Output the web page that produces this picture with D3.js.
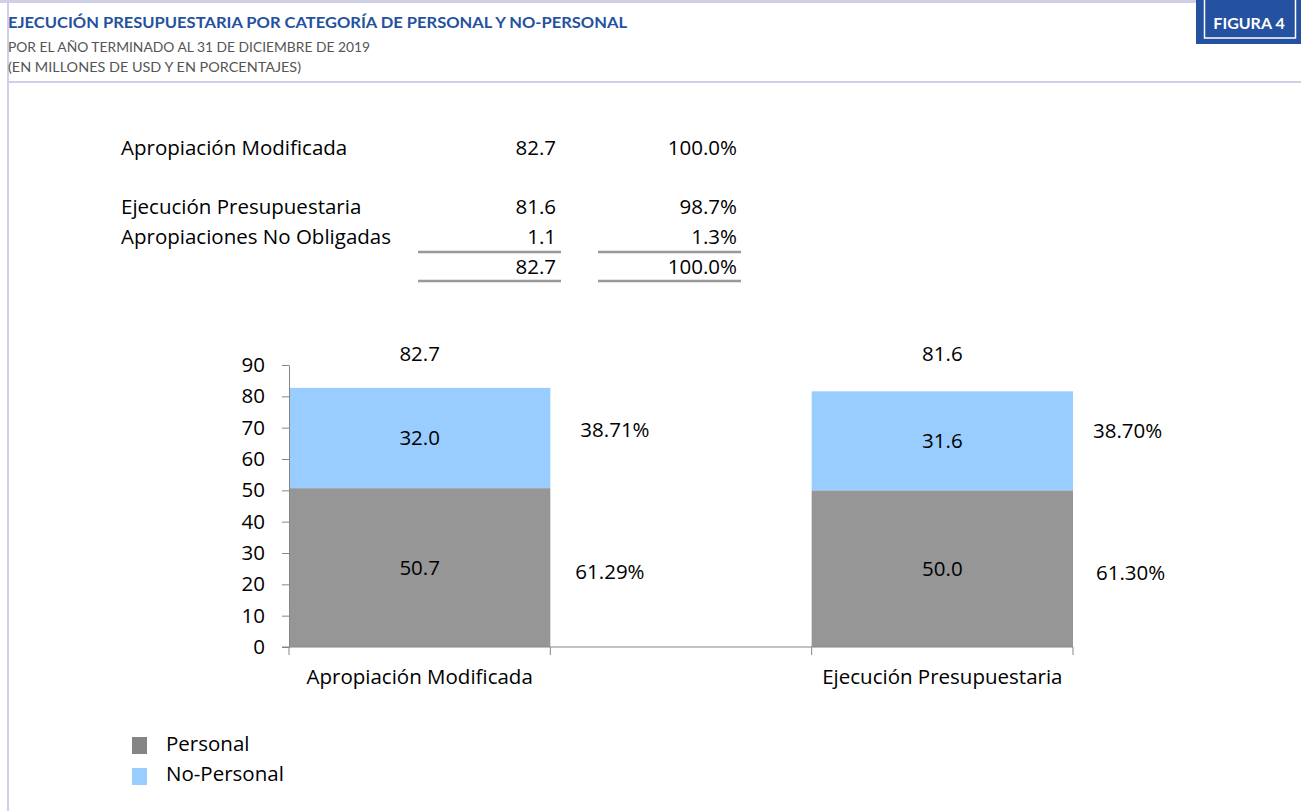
<!DOCTYPE html>
<html>
<head>
<meta charset="utf-8">
<script src="https://cdn.jsdelivr.net/npm/d3@7"></script>
<style>
  body { margin: 0; background: #fff; }
  svg { display: block; }
</style>
</head>
<body>
<svg id="chart" width="1301" height="811"></svg>
<script>
// table rows at the top
var tableLabels = ["Apropiación Modificada", "Ejecución Presupuestaria", "Apropiaciones No Obligadas", ""];
var tableAmounts = [82.7, 81.6, 1.1, 82.7];
var tablePercents = [100.0, 98.7, 1.3, 100.0];

// stacked bar data (middle category left empty, like the original)
var categories = ["Apropiación Modificada", "", "Ejecución Presupuestaria"];
var personal = [50.7, null, 50.0];
var noPersonal = [32.0, null, 31.6];
var totals = [82.7, null, 81.6];
var personalPct = ["61.29%", null, "61.30%"];
var noPersonalPct = ["38.71%", null, "38.70%"];
var yTicks = [0, 10, 20, 30, 40, 50, 60, 70, 80, 90];
var seriesNames = ["Personal", "No-Personal"];

var svg = d3.select("#chart");
var width = 1301, height = 811;
var frame = "#cfcfe8";
var blue = "#2451a0";
var font = "'Open Sans', sans-serif";
var head = "Lato, sans-serif";
var fs = "20.5px";

// frame lines
svg.append("line").attr("x1", 0).attr("x2", width).attr("y1", 1.5).attr("y2", 1.5)
    .attr("stroke", frame).attr("stroke-width", 3);
svg.append("line").attr("x1", 8).attr("x2", 8).attr("y1", 0).attr("y2", height)
    .attr("stroke", frame).attr("stroke-width", 2);
svg.append("line").attr("x1", 8).attr("x2", width).attr("y1", 82).attr("y2", 82)
    .attr("stroke", frame).attr("stroke-width", 2);

// titles
svg.append("text").attr("x", 8).attr("y", 28)
    .attr("font-family", head).attr("font-weight", "bold").attr("font-size", "15px")
    .attr("fill", blue).attr("textLength", 619).attr("lengthAdjust", "spacingAndGlyphs")
    .text("EJECUCIÓN PRESUPUESTARIA POR CATEGORÍA DE PERSONAL Y NO-PERSONAL");
svg.append("text").attr("x", 8).attr("y", 52)
    .attr("font-family", head).attr("font-size", "12.5px").attr("fill", "#555")
    .attr("textLength", 362).attr("lengthAdjust", "spacingAndGlyphs")
    .text("POR EL AÑO TERMINADO AL 31 DE DICIEMBRE DE 2019");
svg.append("text").attr("x", 8).attr("y", 72)
    .attr("font-family", head).attr("font-size", "12.5px").attr("fill", "#555")
    .attr("textLength", 293).attr("lengthAdjust", "spacingAndGlyphs")
    .text("(EN MILLONES DE USD Y EN PORCENTAJES)");

// figure tag
svg.append("rect").attr("x", 1196).attr("y", 0).attr("width", 105).attr("height", 44).attr("fill", blue);
svg.append("rect").attr("x", 1204.5).attr("y", -2).attr("width", 91).attr("height", 40)
    .attr("fill", "none").attr("stroke", "#fff").attr("stroke-width", 1.5);
svg.append("text").attr("x", 1249).attr("y", 29).attr("text-anchor", "middle")
    .attr("font-family", head).attr("font-weight", "bold").attr("font-size", "16px")
    .attr("fill", "#fff").text("FIGURA 4");

// summary table
var rowY = [155, 214, 244, 274];
var fmt1 = d3.format(".1f");
var table = svg.append("g").attr("font-family", font).attr("font-size", fs).attr("fill", "#000");
tableLabels.forEach(function(t, i) {
    table.append("text").attr("x", 121).attr("y", rowY[i]).text(t);
    table.append("text").attr("x", 556).attr("y", rowY[i]).attr("text-anchor", "end").text(fmt1(tableAmounts[i]));
    table.append("text").attr("x", 737).attr("y", rowY[i]).attr("text-anchor", "end").text(fmt1(tablePercents[i]) + "%");
});
[252, 281].forEach(function(y) {
    svg.append("line").attr("x1", 418).attr("x2", 561).attr("y1", y).attr("y2", y)
        .attr("stroke", "#999").attr("stroke-width", 2.5);
    svg.append("line").attr("x1", 598).attr("x2", 741).attr("y1", y).attr("y2", y)
        .attr("stroke", "#999").attr("stroke-width", 2.5);
});

// chart scales
var x = d3.scaleBand().domain(categories).range([289, 1073]).padding(0);
var y = d3.scaleLinear().domain([0, 90]).range([647, 365]);
var color = d3.scaleOrdinal().domain(seriesNames).range(["#969696", "#99ccff"]);

var bars = svg.append("g");
categories.forEach(function(c, i) {
    if (personal[i] == null) return;
    bars.append("rect").attr("x", x(c)).attr("width", x.bandwidth())
        .attr("y", y(personal[i])).attr("height", y(0) - y(personal[i]))
        .attr("fill", color("Personal"));
    bars.append("rect").attr("x", x(c)).attr("width", x.bandwidth())
        .attr("y", y(personal[i] + noPersonal[i])).attr("height", y(0) - y(noPersonal[i]))
        .attr("fill", color("No-Personal"));
});

// axes
var yAxis = svg.append("g").attr("transform", "translate(289,0)")
    .call(d3.axisLeft(y).tickValues(yTicks).tickSizeInner(7).tickSizeOuter(0).tickPadding(17));
yAxis.selectAll("path, line").attr("stroke", "#868686");
yAxis.selectAll("text").attr("font-family", font).attr("font-size", fs).attr("fill", "#000");

svg.append("line").attr("x1", 282).attr("x2", 1073).attr("y1", y(0)).attr("y2", y(0)).attr("stroke", "#868686");
var edges = categories.map(function(c) { return x(c); }).concat([x.range()[1]]);
edges.forEach(function(e) {
    svg.append("line").attr("x1", e).attr("x2", e).attr("y1", y(0)).attr("y2", y(0) + 8).attr("stroke", "#868686");
});

// labels
var pctOffset = [[25, -8], null, [23, -10]]; // [personal, no-personal] x gap, y shift
var pctGap = [[25, 30], null, [23, 20]];
var labels = svg.append("g").attr("font-family", font).attr("font-size", fs).attr("fill", "#000");
categories.forEach(function(c, i) {
    if (personal[i] == null) return;
    var cx = x(c) + x.bandwidth() / 2;
    labels.append("text").attr("x", cx).attr("y", 684).attr("text-anchor", "middle").text(c);
    labels.append("text").attr("x", cx).attr("y", y(90) - 4).attr("text-anchor", "middle").text(fmt1(totals[i]));
    labels.append("text").attr("x", cx).attr("y", y(personal[i] / 2)).attr("dy", "0.35em")
        .attr("text-anchor", "middle").text(fmt1(personal[i]));
    labels.append("text").attr("x", cx).attr("y", y(personal[i] + noPersonal[i] / 2)).attr("dy", "0.35em")
        .attr("text-anchor", "middle").text(fmt1(noPersonal[i]));
    var right = x(c) + x.bandwidth();
    labels.append("text").attr("x", right + pctGap[i][0]).attr("y", y(personal[i] / 2) + 4).attr("dy", "0.35em").text(personalPct[i]);
    labels.append("text").attr("x", right + pctGap[i][1]).attr("y", y(personal[i] + noPersonal[i] / 2) + pctOffset[i][1]).attr("dy", "0.35em").text(noPersonalPct[i]);
});

// legend
var legendColors = ["#858585", "#99ccff"];
seriesNames.forEach(function(s, i) {
    svg.append("rect").attr("x", 132).attr("y", 737 + i * 31).attr("width", 15).attr("height", 17)
        .attr("fill", legendColors[i]);
    svg.append("text").attr("x", 166).attr("y", 751 + i * 30)
        .attr("font-family", font).attr("font-size", fs).text(s);
});
</script>
</body>
</html>
